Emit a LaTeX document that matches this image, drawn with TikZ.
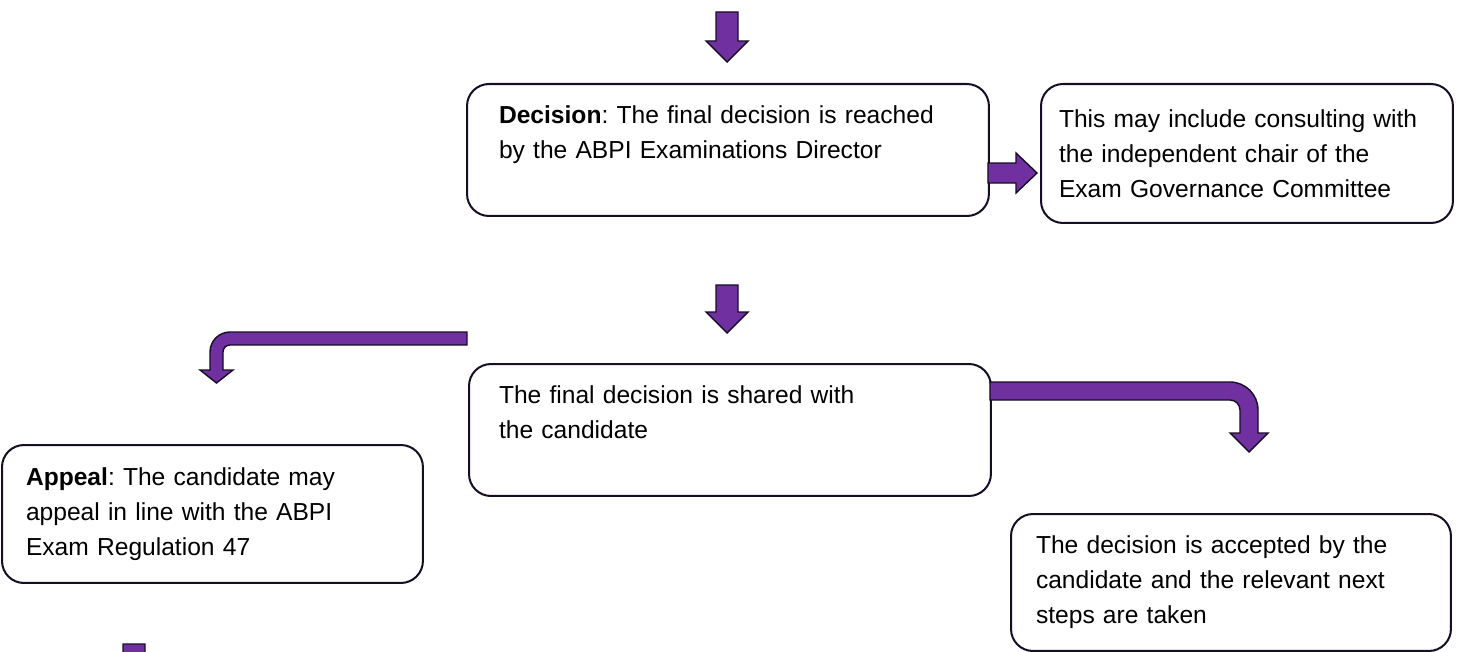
\documentclass[tikz,border=0pt]{standalone}
\usepackage{fontspec}
\setmainfont{Liberation Sans}
\definecolor{arrowfill}{RGB}{112,48,160}
\definecolor{edgeline}{RGB}{22,14,36}
\tikzset{
  stage/.style={draw=edgeline, line width=1.15pt, rounded corners=0.44cm,
    anchor=north west, align=left, minimum height=#1,
    font=\fontsize{14}{19.9}\selectfont\frenchspacing},
  blockarrow/.style={fill=arrowfill, draw=edgeline, line width=0.8pt, line join=miter}
}
% down block arrow: centre x, top y, tip y
\newcommand{\blockdown}[3]{%
  \draw[blockarrow] (#1-11,#2) -- (#1+11,#2) -- (#1+11,#3-21) -- (#1+21,#3-21)
    -- (#1,#3) -- (#1-21,#3-21) -- (#1-11,#3-21) -- cycle;}
\begin{document}
\begin{tikzpicture}[x=0.02cm, y=-0.02cm]
  \path[use as bounding box, clip] (0,0) rectangle (1457,652);

  % boxes
  \node[stage=2.64cm, text width=9.16cm, inner xsep=0.64cm] (decision) at (466,83)
    {\textbf{Decision}: The final decision is reached\\by the ABPI Examinations Director\\~};
  \node[stage=2.78cm, text width=7.52cm, inner xsep=0.36cm] (chair) at (1040,83)
    {This may include consulting with\\the independent chair of the\\Exam Governance Committee};
  \node[stage=2.64cm, text width=9.24cm, inner xsep=0.6cm] (shared) at (468,363)
    {The final decision is shared with\\the candidate\\~};
  \node[stage=2.76cm, text width=7.46cm, inner xsep=0.48cm] (appeal) at (1,444)
    {\textbf{Appeal}: The candidate may\\appeal in line with the ABPI\\Exam Regulation 47};
  \node[stage=2.74cm, text width=7.8cm, inner xsep=0.5cm] (accepted) at (1010,513)
    {The decision is accepted by the\\candidate and the relevant next\\steps are taken};

  % arrows
  \blockdown{727}{12}{62}
  \blockdown{727}{285}{333}
  \blockdown{134}{644}{700}
  \draw[blockarrow] (988,163) -- (1016,163) -- (1016,153) -- (1037,173)
    -- (1016,193) -- (1016,183) -- (988,183) -- cycle;
  \draw[blockarrow] (467,332) [rounded corners=0.4cm] -- (210,332) [sharp corners]
    -- (210,370) -- (200,370) -- (216.5,383) -- (233,370) -- (223,370)
    [rounded corners=0.14cm] -- (223,345) [sharp corners] -- (467,345) -- cycle;
  \draw[blockarrow] (990,382) [rounded corners=0.56cm] -- (1258,382) [sharp corners]
    -- (1258,433) -- (1268,433) -- (1249,452) -- (1230,433) -- (1240,433)
    [rounded corners=0.2cm] -- (1240,400) [sharp corners] -- (990,400) -- cycle;
\end{tikzpicture}
\end{document}
